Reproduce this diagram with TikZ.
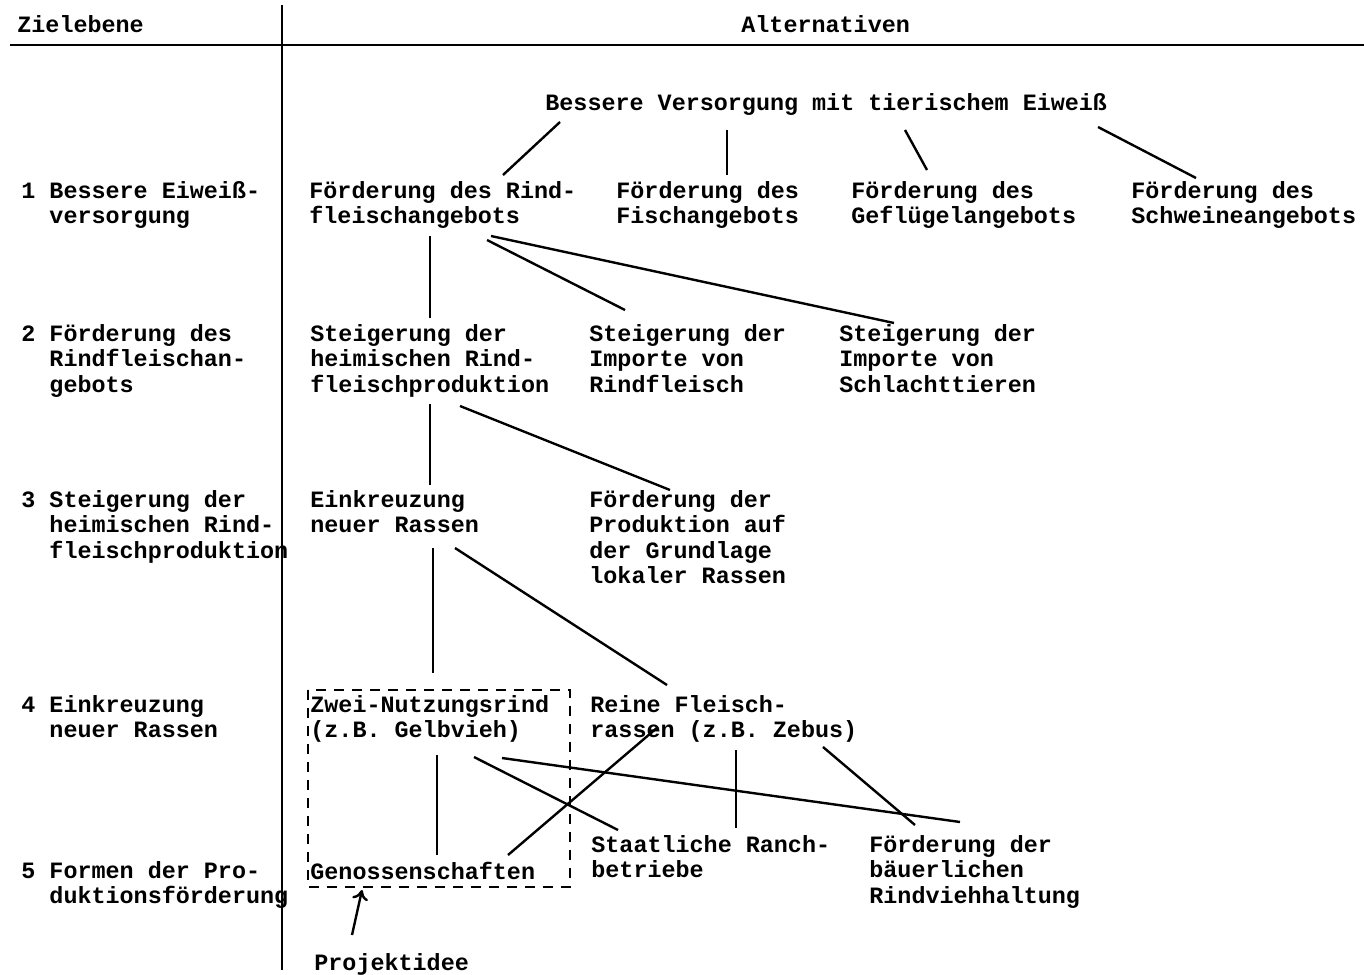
\documentclass[tikz,border=0pt]{standalone}
\usepackage{fontspec}
\setmonofont{Liberation Mono}
\usetikzlibrary{positioning, calc, arrows.meta}

\tikzset{
    lbl/.style={anchor=north west, inner sep=0pt, align=left, yshift=-1pt,
        font=\fontsize{11.7}{12.75}\selectfont\ttfamily\bfseries,
        execute at begin node=\strut},
    link/.style={line width=1.2pt},
}

\begin{document}
\begin{tikzpicture}[x=0.5pt, y=-0.5pt]
    \useasboundingbox (0, 0) rectangle (1364, 974);

    % table frame
    \draw[line width=1pt] (10, 45) -- (1364, 45);
    \draw[line width=1.4pt] (282, 5) -- (282, 970);

    % headings
    \node[lbl] (zielebene) at (17, 12) {Zielebene};
    \node[lbl] (alternativen) at (741, 12) {Alternativen};

    % levels
    \node[lbl] (z1) at (21, 179) {1 Bessere Eiweiß-\\\hphantom{1 }versorgung};
    \node[lbl] (z2) at (21, 322) {2 Förderung des\\\hphantom{2 }Rindfleischan-\\\hphantom{2 }gebots};
    \node[lbl] (z3) at (21, 488) {3 Steigerung der\\\hphantom{3 }heimischen Rind-\\\hphantom{3 }fleischproduktion};
    \node[lbl] (z4) at (21, 693) {4 Einkreuzung\\\hphantom{4 }neuer Rassen};
    \node[lbl] (z5) at (21, 859) {5 Formen der Pro-\\\hphantom{5 }duktionsförderung};

    % alternatives
    \node[lbl] (versorgung) at (545, 90) {Bessere Versorgung mit tierischem Eiweiß};

    \node[lbl] (rind) at (309, 179) {Förderung des Rind-\\fleischangebots};
    \node[lbl] (fisch) at (616, 179) {Förderung des\\Fischangebots};
    \node[lbl] (gefluegel) at (851, 179) {Förderung des\\Geflügelangebots};
    \node[lbl] (schwein) at (1131, 179) {Förderung des\\Schweineangebots};

    \node[lbl] (heimisch) at (310, 322) {Steigerung der\\heimischen Rind-\\fleischproduktion};
    \node[lbl] (importrind) at (589, 322) {Steigerung der\\Importe von\\Rindfleisch};
    \node[lbl] (importschlacht) at (839, 322) {Steigerung der\\Importe von\\Schlachttieren};

    \node[lbl] (einkreuz) at (310, 488) {Einkreuzung\\neuer Rassen};
    \node[lbl] (lokal) at (589, 488) {Förderung der\\Produktion auf\\der Grundlage\\lokaler Rassen};

    \node[lbl] (zweinutz) at (310, 693) {Zwei-Nutzungsrind\\(z.B. Gelbvieh)};
    \node[lbl] (fleischrassen) at (590, 693) {Reine Fleisch-\\rassen (z.B. Zebus)};

    \node[lbl] (genossen) at (310, 859) {Genossenschaften};
    \node[lbl] (ranch) at (591, 833) {Staatliche Ranch-\\betriebe};
    \node[lbl] (baeuerlich) at (869, 833) {Förderung der\\bäuerlichen\\Rindviehhaltung};

    \node[lbl] (projekt) at (314, 950) {Projektidee};

    % project box
    \draw[line width=1pt, dash pattern=on 5pt off 4pt]
        ($(zweinutz.north west)+(-2, -5)$) rectangle ($(genossen.north west)+(260, 26)$);

    % level 1
    \draw[link] ($(versorgung.north west)+(15, 30)$) -- ($(rind.north west)+(194, -6)$);
    \draw[link] ($(versorgung.north west)+(182, 38)$) -- ($(fisch.north west)+(111, -6)$);
    \draw[link] ($(versorgung.north west)+(360, 38)$) -- ($(gefluegel.north west)+(76, -11)$);
    \draw[link] ($(versorgung.north west)+(553, 35)$) -- ($(schwein.north west)+(65, -3)$);

    % level 2
    \draw[link] ($(rind.north west)+(121, 55)$) -- ($(heimisch.north west)+(120, -6)$);
    \draw[link] ($(rind.north west)+(178, 59)$) -- ($(importrind.north west)+(36, -14)$);
    \draw[link] ($(rind.north west)+(182, 55)$) -- ($(importschlacht.north west)+(55, -1)$);

    % level 3
    \draw[link] ($(heimisch.north west)+(120, 80)$) -- ($(einkreuz.north west)+(120, -5)$);
    \draw[link] ($(heimisch.north west)+(150, 82)$) -- ($(lokal.north west)+(81, 0)$);

    % level 4
    \draw[link] ($(einkreuz.north west)+(123, 58)$) -- ($(zweinutz.north west)+(123, -22)$);
    \draw[link] ($(einkreuz.north west)+(145, 58)$) -- ($(fleischrassen.north west)+(77, -10)$);

    % level 5
    \draw[link] ($(zweinutz.north west)+(127, 60)$) -- ($(genossen.north west)+(127, -6)$);
    \draw[link] ($(zweinutz.north west)+(164, 62)$) -- ($(ranch.north west)+(27, -5)$);
    \draw[link] ($(zweinutz.north west)+(192, 63)$) -- ($(baeuerlich.north west)+(91, -13)$);
    \draw[link] ($(fleischrassen.north west)+(68, 32)$) -- ($(genossen.north west)+(198, -6)$);
    \draw[link] ($(fleischrassen.north west)+(146, 55)$) -- ($(ranch.north west)+(145, -7)$);
    \draw[link] ($(fleischrassen.north west)+(233, 52)$) -- ($(baeuerlich.north west)+(46, -10)$);

    \draw[link, -{To[length=5pt, width=8pt]}] ($(projekt.north west)+(38, -17)$) -- ($(genossen.north west)+(52, 29)$);

\end{tikzpicture}
\end{document}
